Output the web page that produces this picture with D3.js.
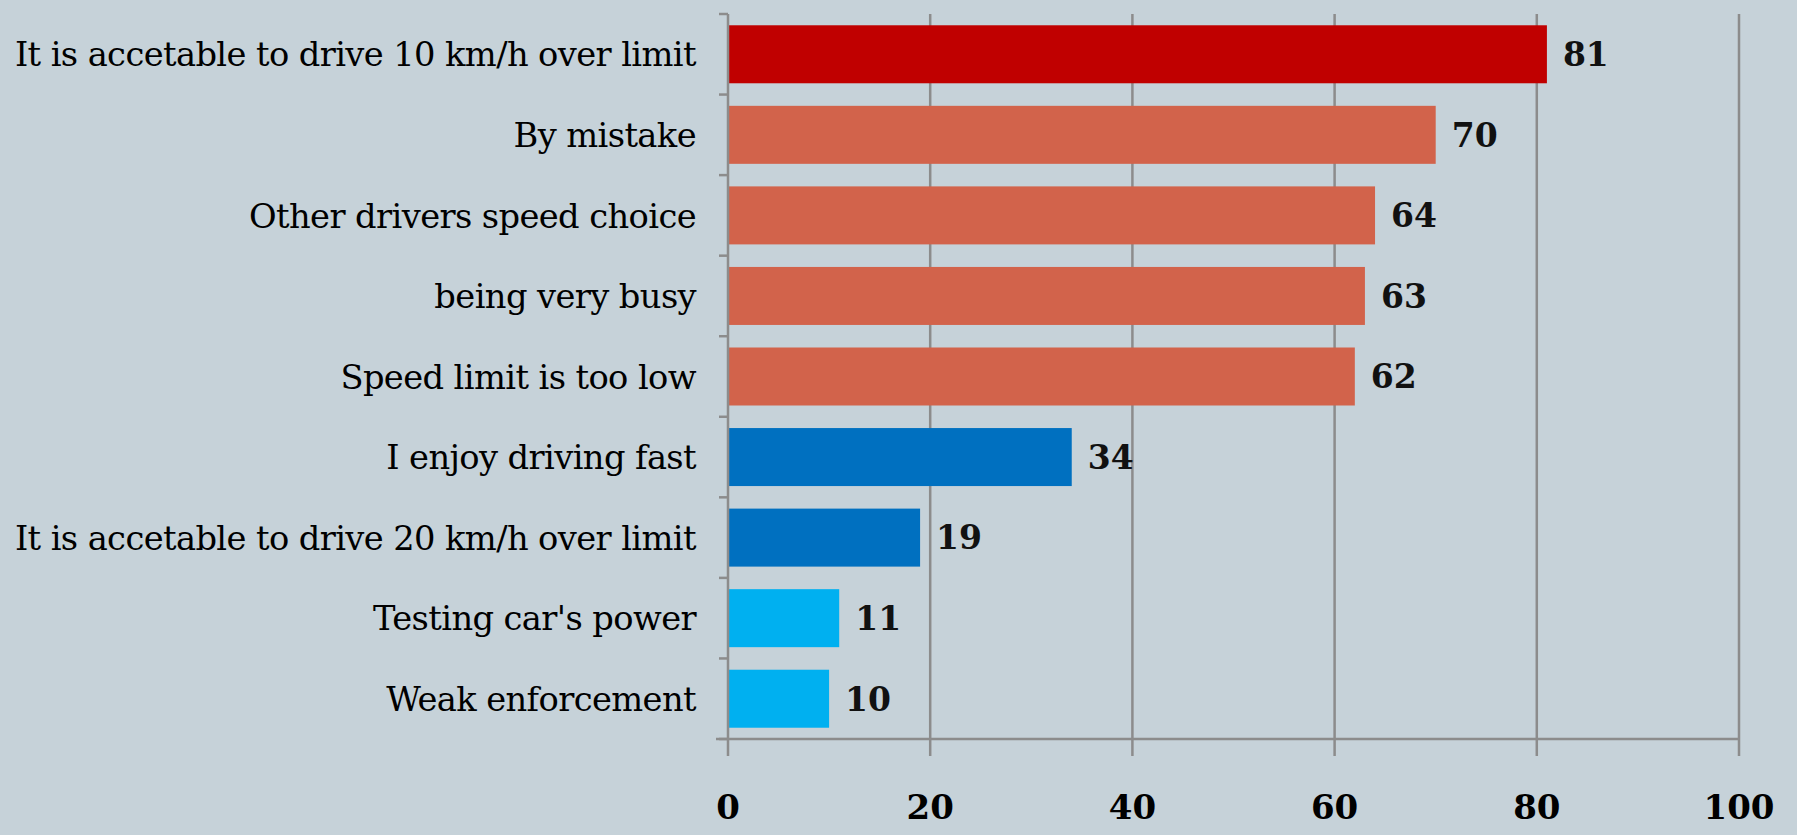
<!DOCTYPE html>
<html>
<head>
<meta charset="utf-8">
<script src="https://cdn.jsdelivr.net/npm/d3@7"></script>
<style>
  html, body { margin: 0; padding: 0; background: #c6d2d9; overflow: hidden; }
  svg { display: block; }
</style>
</head>
<body>
<div id="chart"></div>
<script>
// Reasons for speeding, share of respondents (%)
const reasons = [
    "It is accetable to drive 10 km/h over limit",
    "By mistake",
    "Other drivers speed choice",
    "being very busy",
    "Speed limit is too low",
    "I enjoy driving fast",
    "It is accetable to drive 20 km/h over limit",
    "Testing car's power",
    "Weak enforcement"
];
const shares = [81, 70, 64, 63, 62, 34, 19, 11, 10];
const barColors = ["#c00000", "#d2634b", "#d2634b", "#d2634b", "#d2634b",
                   "#0070c0", "#0070c0", "#00b0f0", "#00b0f0"];
const xTicks = [0, 20, 40, 60, 80, 100];

const width = 1797;
const height = 835;
const margin = {top: 14, right: 58, bottom: 96, left: 728};
const innerWidth = width - margin.left - margin.right;
const innerHeight = height - margin.top - margin.bottom;

const gridColor = "#8c8c8c";
const serif = "'DejaVu Serif', Georgia, serif";

const svg = d3.select("#chart")
    .append("svg")
    .attr("width", width)
    .attr("height", height);

svg.append("rect")
    .attr("width", width)
    .attr("height", height)
    .attr("fill", "#c6d2d9");

const chart = svg.append("g")
    .attr("transform", `translate(${margin.left}, ${margin.top})`);

const xScale = d3.scaleLinear()
    .domain([0, 100])
    .range([0, innerWidth]);

const yScale = d3.scaleBand()
    .domain(reasons)
    .range([0, innerHeight])
    .paddingInner(0.28)
    .paddingOuter(0.14);

// vertical gridlines, running a little past the axis as ticks
chart.append("g")
    .selectAll("line")
    .data(xTicks.slice(1))
    .enter()
    .append("line")
    .attr("x1", d => xScale(d))
    .attr("x2", d => xScale(d))
    .attr("y1", 0)
    .attr("y2", innerHeight + 17)
    .attr("stroke", gridColor)
    .attr("stroke-width", 2.5);

// bars
chart.selectAll("rect.bar")
    .data(reasons)
    .enter()
    .append("rect")
    .attr("class", "bar")
    .attr("x", 0)
    .attr("y", d => yScale(d))
    .attr("width", (d, i) => xScale(shares[i]))
    .attr("height", yScale.bandwidth())
    .attr("fill", (d, i) => barColors[i]);

// value labels
chart.selectAll("text.value")
    .data(reasons)
    .enter()
    .append("text")
    .attr("class", "value")
    .attr("x", (d, i) => xScale(shares[i]) + 16)
    .attr("y", d => yScale(d) + yScale.bandwidth() / 2)
    .attr("dy", "0.36em")
    .style("font-family", serif)
    .style("font-size", "33px")
    .style("font-weight", "bold")
    .style("fill", "#111")
    .text((d, i) => shares[i]);

// left axis with ticks between categories
const yAxis = chart.append("g");
yAxis.append("line")
    .attr("x1", 0).attr("x2", 0)
    .attr("y1", 0).attr("y2", innerHeight + 17)
    .attr("stroke", gridColor)
    .attr("stroke-width", 2.5);

const step = innerHeight / reasons.length;
yAxis.selectAll("line.tick")
    .data(d3.range(reasons.length + 1))
    .enter()
    .append("line")
    .attr("class", "tick")
    .attr("x1", -9).attr("x2", 0)
    .attr("y1", i => i * step)
    .attr("y2", i => i * step)
    .attr("stroke", gridColor)
    .attr("stroke-width", 2.5);

const catLabels = yAxis.selectAll("text")
    .data(reasons)
    .enter()
    .append("text")
    .attr("x", -32)
    .attr("y", d => yScale(d) + yScale.bandwidth() / 2)
    .attr("dy", "0.36em")
    .attr("text-anchor", "end")
    .style("font-family", serif)
    .style("font-size", "28px")
    .style("letter-spacing", "-0.6px")
    .style("fill", "#000")
    .text(d => d);

// size the labels so the longest one fills the space left of the axis
const longest = d3.max(catLabels.nodes(), n => n.getComputedTextLength());
const fitSize = Math.min(36, 28 * 676 / longest);
catLabels.style("font-size", fitSize + "px");

// bottom axis
chart.append("line")
    .attr("x1", -12).attr("x2", innerWidth)
    .attr("y1", innerHeight).attr("y2", innerHeight)
    .attr("stroke", gridColor)
    .attr("stroke-width", 2.5);

chart.append("g")
    .selectAll("text")
    .data(xTicks)
    .enter()
    .append("text")
    .attr("x", d => xScale(d))
    .attr("y", innerHeight + 80)
    .attr("text-anchor", "middle")
    .style("font-family", serif)
    .style("font-size", "34px")
    .style("font-weight", "bold")
    .style("fill", "#000")
    .text(d => d);
</script>
</body>
</html>
